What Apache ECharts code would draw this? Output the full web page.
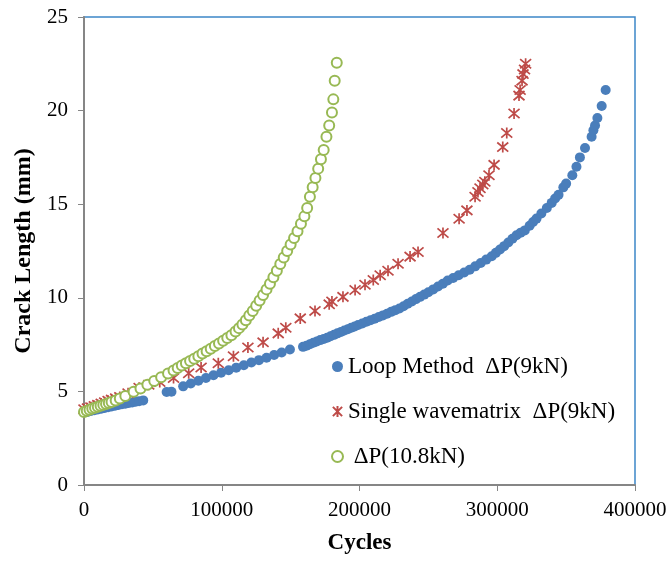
<!DOCTYPE html>
<html>
<head>
<meta charset="utf-8">
<title>Crack Length vs Cycles</title>
<script src="https://cdn.jsdelivr.net/npm/echarts@6/dist/echarts.min.js"></script>
<style>
  html, body { margin: 0; padding: 0; background: #fff; }
  #chart { width: 672px; height: 561px; }
</style>
</head>
<body>
<div id="chart"></div>
<script>
  // Loop Method ΔP(9kN)
  var loopCycles = [0, 2500, 5000, 7500, 10000, 12500, 15000, 17500, 20000, 22500, 25000, 27500, 30000, 32500, 35000, 37500, 40000, 43000,
    60000, 63500,
    72000, 77500, 83000, 88500, 94000, 99500, 105000, 110500, 116000, 121500, 127000, 132500, 138000, 143500, 149500,
    159000, 161500, 164000, 166500, 169000, 171500, 174000, 176500, 179000, 181500, 184000, 186500, 189000, 191500, 194000, 196500,
    199000, 202000, 205000, 208000, 211000, 214000, 217000, 220000, 223000, 226000, 229000, 232000, 235000, 238000, 241000, 244000,
    247000, 250000, 253500, 257000, 260500, 264000, 268000, 272000, 276000, 280000, 284000, 288000, 292000, 296000, 299000, 302000,
    305000, 308000, 311000, 314000, 317000, 320000, 323500, 326000, 328500, 332000, 336000, 339500, 342000, 344500, 348000, 350000,
    354500, 357500, 360000, 363700, 368500, 369800, 371000, 372700, 375800, 378700];
  var loopLength = [3.88, 3.9, 3.95, 3.99, 4.03, 4.07, 4.11, 4.15, 4.19, 4.23, 4.27, 4.31, 4.34, 4.38, 4.41, 4.45, 4.48, 4.52,
    4.97, 4.98,
    5.27, 5.42, 5.57, 5.72, 5.86, 6.0, 6.13, 6.27, 6.4, 6.54, 6.67, 6.8, 6.94, 7.08, 7.24,
    7.38, 7.44, 7.52, 7.6, 7.67, 7.74, 7.8, 7.87, 7.95, 8.02, 8.1, 8.17, 8.25, 8.32, 8.4, 8.47,
    8.55, 8.63, 8.72, 8.8, 8.88, 8.97, 9.06, 9.15, 9.25, 9.34, 9.43, 9.55, 9.68, 9.8, 9.93, 10.05,
    10.17, 10.3, 10.45, 10.6, 10.75, 10.92, 11.06, 11.2, 11.35, 11.5, 11.68, 11.86, 12.04, 12.22, 12.4, 12.58,
    12.76, 12.95, 13.15, 13.34, 13.48, 13.6, 13.85, 14.05, 14.23, 14.5, 14.8, 15.07, 15.3, 15.5, 15.9, 16.1,
    16.55, 17.0, 17.5, 18.0, 18.6, 18.95, 19.2, 19.6, 20.25, 21.1];

  // Single wavematrix ΔP(9kN)
  var singleCycles = [0, 2500, 5000, 7500, 10000, 12500, 15000, 17500, 20000, 23000, 26000, 32000, 40000, 47000, 55000, 65000,
    76000, 85000, 97500, 108500, 119000, 130000, 141000, 146500, 157000, 167700, 178000, 180000, 188000, 196800, 204000,
    210000, 215000, 220700, 228000, 236700, 242500, 260600, 272300, 278000, 283900, 286000, 287500, 289500, 291000, 294000,
    297700, 304000, 306900, 312200, 315800, 316600, 318000, 318700, 319800, 320600];
  var singleLength = [4.05, 4.1, 4.15, 4.22, 4.28, 4.35, 4.42, 4.5, 4.56, 4.63, 4.7, 4.9, 5.2, 5.35, 5.5, 5.72,
    5.97, 6.28, 6.5, 6.88, 7.35, 7.62, 8.1, 8.4, 8.9, 9.3, 9.65, 9.8, 10.05, 10.42, 10.7,
    10.95, 11.2, 11.45, 11.82, 12.2, 12.45, 13.46, 14.22, 14.67, 15.4, 15.65, 15.85, 16.05, 16.2, 16.55,
    17.1, 18.05, 18.8, 19.85, 20.8, 21.1, 21.6, 21.95, 22.2, 22.5];

  // ΔP(10.8kN)
  var highCycles = [0, 2000, 4000, 6000, 8000, 10000, 12000, 14000, 16000, 18000, 20000, 23000, 26000, 30000, 36000, 41000,
    46000, 51000, 56000, 61000, 65000, 68000, 71000, 74000, 77000, 80000, 83000, 86000, 89000, 92000, 95000, 98000,
    101000, 104000, 107000, 110000, 112500, 115000, 117500, 120000, 122500, 125000, 127500, 130000, 132500, 135000,
    137500, 140000, 142500, 145000, 147500, 150000, 152500, 155000, 157500, 160000, 162000, 164000, 166000, 168000,
    170000, 172000, 174000, 176000, 178000, 180000, 181000, 182000, 183500];
  var highLength = [3.9, 3.96, 4.02, 4.08, 4.13, 4.18, 4.23, 4.28, 4.33, 4.38, 4.44, 4.52, 4.62, 4.75, 4.98, 5.15,
    5.35, 5.55, 5.75, 5.95, 6.12, 6.25, 6.38, 6.5, 6.62, 6.75, 6.88, 7.02, 7.15, 7.28, 7.42, 7.56,
    7.7, 7.85, 8.0, 8.2, 8.38, 8.58, 8.8, 9.05, 9.3, 9.58, 9.85, 10.15, 10.45, 10.75,
    11.1, 11.45, 11.8, 12.15, 12.5, 12.85, 13.2, 13.55, 13.95, 14.35, 14.8, 15.4, 15.9, 16.4,
    16.9, 17.4, 17.9, 18.6, 19.2, 19.9, 20.6, 21.6, 22.55];

  var xTicks = [0, 100000, 200000, 300000, 400000];
  var yTicks = [0, 5, 10, 15, 20, 25];

  function pairs(xs, ys) {
    return xs.map(function (x, i) { return [x, ys[i]]; });
  }

  var serif = '"Liberation Serif", "DejaVu Serif", serif';
  var asterisk = 'path://M5,0L5,10M0.8,0.8L9.2,9.2M9.2,0.8L0.8,9.2';

  var chart = echarts.init(document.getElementById('chart'));
  chart.setOption({
    animation: false,
    grid: {
      left: 84,
      right: 37,
      top: 17,
      bottom: 76,
      show: true,
      borderColor: '#3C87C8',
      borderWidth: 1.5
    },
    legend: {
      orient: 'vertical',
      left: 326,
      top: 350,
      itemWidth: 11,
      itemHeight: 11,
      itemGap: 22,
      textStyle: {
        fontFamily: serif,
        fontSize: 23,
        color: '#000'
      },
      data: ['Loop Method  ΔP(9kN)', 'Single wavematrix  ΔP(9kN)', ' ΔP(10.8kN)']
    },
    xAxis: {
      type: 'value',
      min: xTicks[0],
      max: xTicks[xTicks.length - 1],
      interval: 100000,
      name: 'Cycles',
      nameLocation: 'middle',
      nameGap: 47,
      nameTextStyle: { fontFamily: serif, fontSize: 23, fontWeight: 'bold', color: '#000' },
      axisLine: { lineStyle: { color: '#868686', width: 2 } },
      axisTick: { show: true, length: 6, lineStyle: { color: '#868686' } },
      axisLabel: {
        fontFamily: serif, fontSize: 21, color: '#000', margin: 15,
        formatter: function (v) { return String(v); }
      },
      splitLine: { show: false }
    },
    yAxis: {
      type: 'value',
      min: yTicks[0],
      max: yTicks[yTicks.length - 1],
      interval: 5,
      name: 'Crack Length (mm)',
      nameLocation: 'middle',
      nameGap: 45,
      nameTextStyle: { fontFamily: serif, fontSize: 24, fontWeight: 'bold', color: '#000' },
      axisLine: { show: true, lineStyle: { color: '#868686', width: 2 } },
      axisTick: { show: true, length: 6, lineStyle: { color: '#868686' } },
      axisLabel: { fontFamily: serif, fontSize: 21, color: '#000', margin: 16 },
      splitLine: { show: false }
    },
    series: [
      {
        name: 'Loop Method  ΔP(9kN)',
        type: 'scatter',
        symbol: 'circle',
        symbolSize: 10,
        itemStyle: { color: '#4A7EBB', opacity: 1 },
        data: pairs(loopCycles, loopLength)
      },
      {
        name: 'Single wavematrix  ΔP(9kN)',
        type: 'scatter',
        symbol: asterisk,
        symbolSize: 11,
        itemStyle: { color: 'rgba(0,0,0,0)', borderColor: '#BE4B48', borderWidth: 1.7, opacity: 1 },
        data: pairs(singleCycles, singleLength)
      },
      {
        name: ' ΔP(10.8kN)',
        type: 'scatter',
        symbol: 'emptyCircle',
        symbolSize: 10,
        itemStyle: { color: '#98B954', borderColor: '#98B954', borderWidth: 1.4, opacity: 1 },
        data: pairs(highCycles, highLength)
      }
    ]
  });
</script>
</body>
</html>
